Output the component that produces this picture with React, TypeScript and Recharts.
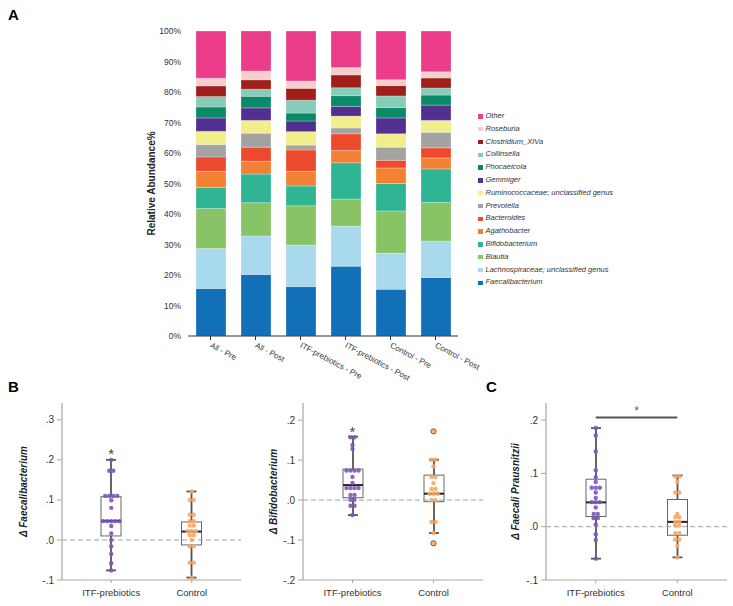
import React from "react";
import {
  BarChart,
  Bar,
  XAxis,
  YAxis,
  ComposedChart,
  Scatter,
  ReferenceLine,
} from "recharts";

const FONT = "'Liberation Sans', Arial, Helvetica, sans-serif";

// ---------- Panel A data ----------
const categories = [
  "All - Pre",
  "All - Post",
  "ITF-prebiotics - Pre",
  "ITF-prebiotics - Post",
  "Control - Pre",
  "Control - Post",
];

const faecalibacterium = [15.6, 20.2, 16.2, 22.9, 15.3, 19.2];
const lachnospiraceae = [13.1, 12.6, 13.6, 13.1, 11.8, 11.9];
const blautia = [13.1, 10.9, 12.9, 8.9, 13.9, 12.7];
const bifidobacterium = [6.9, 9.4, 6.5, 11.9, 9.0, 11.0];
const agathobacter = [5.3, 4.2, 4.8, 4.0, 5.1, 3.6];
const bacteroides = [4.7, 4.6, 7.0, 5.5, 2.5, 3.3];
const prevotella = [4.1, 4.6, 1.6, 1.9, 4.3, 5.1];
const ruminococcaceae = [4.3, 4.2, 4.4, 3.9, 4.4, 3.9];
const gemmiger = [4.4, 4.1, 3.5, 3.2, 5.2, 5.0];
const phocaeicola = [3.6, 3.8, 2.6, 3.5, 3.4, 3.3];
const collinsella = [3.4, 2.3, 4.2, 2.6, 3.8, 2.3];
const clostridium = [3.5, 3.1, 3.9, 4.2, 3.4, 3.3];
const roseburia = [2.5, 2.9, 2.4, 2.4, 1.9, 2.0];
const other = [15.5, 13.1, 16.4, 12.0, 16.0, 13.4];

const taxonNames = [
  "Faecalibacterium",
  "Lachnospiraceae; unclassified genus",
  "Blautia",
  "Bifidobacterium",
  "Agathobacter",
  "Bacteroides",
  "Prevotella",
  "Ruminococcaceae; unclassified genus",
  "Gemmiger",
  "Phocaeicola",
  "Collinsella",
  "Clostridium_XIVa",
  "Roseburia",
  "Other",
];
const taxonSeries = [
  faecalibacterium,
  lachnospiraceae,
  blautia,
  bifidobacterium,
  agathobacter,
  bacteroides,
  prevotella,
  ruminococcaceae,
  gemmiger,
  phocaeicola,
  collinsella,
  clostridium,
  roseburia,
  other,
];
const taxonColors = [
  "#1170b8",
  "#a9d9ec",
  "#88c466",
  "#30b594",
  "#f28133",
  "#ed4a2d",
  "#a3a3a3",
  "#f3ee8c",
  "#51308f",
  "#0a8a68",
  "#87cbb9",
  "#a01f1a",
  "#f6cfcd",
  "#ec3d8b",
];
const percentTicks = [0, 10, 20, 30, 40, 50, 60, 70, 80, 90, 100];

const stackData = categories.map((c, i) => {
  const row: Record<string, any> = { category: c };
  taxonNames.forEach((n, j) => {
    row[n] = taxonSeries[j][i];
  });
  return row;
});

// ---------- Panels B / C data ----------
const groups = ["ITF-prebiotics", "Control"];

const itfFaecali = [0.2, 0.173, 0.173, 0.11, 0.11, 0.11, 0.11, 0.099, 0.08, 0.047, 0.047, 0.047, 0.047, 0.047, 0.035, 0.016, 0.0, -0.016, -0.035, -0.058, -0.076];
const ctrlFaecali = [0.121, 0.1, 0.1, 0.063, 0.063, 0.047, 0.047, 0.036, 0.036, 0.022, 0.022, 0.022, 0.012, 0.012, 0.0, -0.016, -0.016, -0.057, -0.057, -0.094];
const statsFaecali = [
  { low: -0.076, q1: 0.01, median: 0.0475, q3: 0.108, high: 0.2 },
  { low: -0.094, q1: -0.0125, median: 0.021, q3: 0.045, high: 0.121 },
];

const itfBifido = [0.157, 0.157, 0.138, 0.128, 0.074, 0.074, 0.074, 0.074, 0.058, 0.043, 0.03, 0.03, 0.03, 0.03, 0.013, 0.013, 0.001, 0.001, -0.014, -0.014, -0.0375];
const ctrlBifido = [0.172, 0.101, 0.101, 0.084, 0.058, 0.058, 0.0425, 0.028, 0.028, 0.016, 0.016, 0.016, 0.0, 0.0, -0.055, -0.055, -0.0825, -0.108];
const statsBifido = [
  { low: -0.0375, q1: 0.006, median: 0.0375, q3: 0.0775, high: 0.159 },
  { low: -0.0825, q1: -0.004, median: 0.016, q3: 0.0625, high: 0.101 },
];

const itfPraus = [0.185, 0.171, 0.141, 0.106, 0.093, 0.084, 0.073, 0.073, 0.073, 0.064, 0.054, 0.046, 0.046, 0.046, 0.036, 0.024, 0.024, 0.016, 0.016, 0.004, -0.014, -0.025, -0.06];
const ctrlPraus = [0.094, 0.094, 0.084, 0.064, 0.064, 0.024, 0.018, 0.018, 0.009, 0.009, 0.002, 0.002, -0.012, -0.012, -0.024, -0.024, -0.036, -0.0575];
const statsPraus = [
  { low: -0.06, q1: 0.019, median: 0.0456, q3: 0.089, high: 0.185 },
  { low: -0.0575, q1: -0.016, median: 0.009, q3: 0.051, high: 0.096 },
];

const ticksFaecali = [-0.1, 0, 0.1, 0.2, 0.3];
const ticksBifido = [-0.2, -0.1, 0, 0.1, 0.2];
const ticksPraus = [-0.1, 0, 0.1, 0.2];

const groupColors = ["#7d55bd", "#f6a664"];

// ---------- helpers ----------
const dodgeStep = 0.05;
function buildPoints(values: number[], gi: number, low: number, high: number) {
  const counts = new Map<number, number>();
  values.forEach((v) => counts.set(v, (counts.get(v) || 0) + 1));
  const seen = new Map<number, number>();
  return values.map((v) => {
    const n = counts.get(v) as number;
    const k = seen.get(v) || 0;
    seen.set(v, k + 1);
    return {
      x: gi + 1 + (k - (n - 1) / 2) * dodgeStep,
      y: v,
      outlier: v > high + 1e-9 || v < low - 1e-9,
      gi,
    };
  });
}

const fmtTick = (v: number) => {
  if (Math.abs(v) < 1e-9) return ".0";
  return (v < 0 ? "-" : "") + "." + Math.round(Math.abs(v) * 10);
};

const BoxShape = (props: any) => {
  const { x, y, width, height, payload } = props;
  const lo = payload.range[0];
  const hi = payload.range[1];
  const top = Math.min(y, y + height);
  const bottom = Math.max(y, y + height);
  const py = (v: number) => top + ((bottom - top) * (hi - v)) / (hi - lo);
  const cx = x + width / 2;
  const q3y = py(payload.q3);
  const q1y = py(payload.q1);
  const my = py(payload.median);
  const wc = "#555";
  return (
    <g>
      <line x1={cx} x2={cx} y1={top} y2={q3y} stroke={wc} strokeWidth={1.8} />
      <line x1={cx} x2={cx} y1={q1y} y2={bottom} stroke={wc} strokeWidth={1.8} />
      <line x1={cx - 5} x2={cx + 5} y1={top} y2={top} stroke={wc} strokeWidth={1.8} />
      <line x1={cx - 5} x2={cx + 5} y1={bottom} y2={bottom} stroke={wc} strokeWidth={1.8} />
      <rect x={x} y={q3y} width={width} height={q1y - q3y} fill="none" stroke="#666" strokeWidth={1} />
      <line x1={x} x2={x + width} y1={my} y2={my} stroke="#222" strokeWidth={2} />
    </g>
  );
};

const DotShape = (props: any) => {
  const { cx, cy, payload } = props;
  if (payload.outlier) {
    return <circle cx={cx} cy={cy} r={2.6} fill="#f7b47a" stroke="#8a5a30" strokeWidth={1} />;
  }
  return <circle cx={cx} cy={cy} r={2.2} fill={groupColors[payload.gi]} fillOpacity={0.9} />;
};

const StarShape = (size: number, color: string) => (props: any) => {
  const { cx, cy } = props;
  return (
    <text x={cx} y={cy + size * 0.57} textAnchor="middle" fontSize={size} fill={color} fontFamily={FONT}>
      *
    </text>
  );
};

const YLabel = (props: any) => {
  const { viewBox, text, dxFromAxis } = props;
  const cx = viewBox.x + viewBox.width - dxFromAxis;
  const cy = viewBox.y + viewBox.height / 2;
  return (
    <text
      x={cx}
      y={cy}
      transform={`rotate(-90, ${cx}, ${cy})`}
      textAnchor="middle"
      dominantBaseline="central"
      fontSize={10}
      fontWeight="bold"
      fontStyle="italic"
      fill="#222"
      fontFamily={FONT}
    >
      {text}
    </text>
  );
};

type PanelProps = {
  left: number;
  width: number;
  marginLeft: number;
  marginRight: number;
  domain: [number, number];
  ticks: number[];
  stats: any[];
  itf: number[];
  ctrl: number[];
  label: string;
  labelDx: number;
  star?: { x: number; y: number; size: number; color: string };
  sig?: { y: number };
};

function BoxPanel(p: PanelProps) {
  const boxData = groups.map((g, i) => ({
    group: g,
    range: [p.stats[i].low, p.stats[i].high],
    q1: p.stats[i].q1,
    median: p.stats[i].median,
    q3: p.stats[i].q3,
  }));
  const points = [
    ...buildPoints(p.itf, 0, p.stats[0].low, p.stats[0].high),
    ...buildPoints(p.ctrl, 1, p.stats[1].low, p.stats[1].high),
  ];
  const axisColor = "#a8a8a8";
  return (
    <div style={{ position: "absolute", left: p.left, top: 390 }}>
      <ComposedChart
        width={p.width}
        height={216}
        data={boxData}
        margin={{ top: 13, right: p.marginRight, bottom: 0, left: p.marginLeft }}
      >
        <XAxis
          xAxisId="cat"
          dataKey="group"
          type="category"
          padding={{ left: 9, right: 9 }}
          height={26}
          tickSize={3}
          tickMargin={6}
          axisLine={{ stroke: axisColor, strokeWidth: 1.2 }}
          tickLine={{ stroke: axisColor }}
          tick={{ fontSize: 9.5, fill: "#333", fontFamily: FONT }}
        />
        <XAxis
          xAxisId="num"
          dataKey="x"
          type="number"
          domain={[0.5, 2.5]}
          padding={{ left: 9, right: 9 }}
          allowDataOverflow
          hide
        />
        <YAxis
          type="number"
          domain={p.domain}
          ticks={p.ticks}
          allowDataOverflow
          width={40}
          tickSize={5}
          tickMargin={3}
          tickFormatter={fmtTick}
          axisLine={{ stroke: axisColor, strokeWidth: 1.2 }}
          tickLine={{ stroke: axisColor }}
          tick={{ fontSize: 10, fill: "#333", fontFamily: FONT }}
          label={<YLabel text={p.label} dxFromAxis={p.labelDx} />}
        />
        <ReferenceLine xAxisId="cat" y={0} stroke="#a0a0a0" strokeDasharray="5 3" strokeWidth={1} />
        <Bar xAxisId="cat" dataKey="range" barSize={20} shape={BoxShape} isAnimationActive={false} />
        <Scatter xAxisId="num" data={points} dataKey="y" shape={DotShape} isAnimationActive={false} />
        {p.star && (
          <Scatter
            xAxisId="num"
            data={[{ x: p.star.x, y: p.star.y }]}
            dataKey="y"
            shape={StarShape(p.star.size, p.star.color)}
            isAnimationActive={false}
          />
        )}
        {p.sig && (
          <ReferenceLine
            xAxisId="num"
            segment={[
              { x: 1, y: p.sig.y },
              { x: 2, y: p.sig.y },
            ]}
            stroke="#555"
            strokeWidth={2}
          />
        )}
      </ComposedChart>
    </div>
  );
}

const RotTick = (props: any) => {
  const { x, y, payload } = props;
  const tx = x - 1;
  const ty = y + 5;
  return (
    <text x={tx} y={ty} transform={`rotate(28, ${tx}, ${ty})`} fontSize={8} fill="#333" fontFamily={FONT}>
      {payload.value}
    </text>
  );
};

const letterStyle = (left: number, top: number): React.CSSProperties => ({
  position: "absolute",
  left,
  top,
  fontFamily: FONT,
  fontWeight: "bold",
  fontSize: 15,
  lineHeight: "15px",
  color: "#000",
});

export default function App() {
  const legendItems = taxonNames.map((n, i) => ({ name: n, color: taxonColors[i] })).reverse();
  return (
    <div
      style={{
        position: "absolute",
        left: 0,
        top: 0,
        width: 733,
        height: 606,
        background: "#fff",
        fontFamily: FONT,
        overflow: "hidden",
      }}
    >
      <div style={letterStyle(8, 7)}>A</div>
      <div style={letterStyle(8, 379)}>B</div>
      <div style={letterStyle(486, 379)}>C</div>

      <div style={{ position: "absolute", left: 0, top: 0 }}>
        <BarChart
          width={733}
          height={385}
          data={stackData}
          margin={{ top: 31, right: 275, bottom: 0, left: 138 }}
        >
          <XAxis
            dataKey="category"
            type="category"
            height={49}
            tickSize={4}
            interval={0}
            axisLine={{ stroke: "#333", strokeWidth: 1.2 }}
            tickLine={{ stroke: "#333" }}
            tick={RotTick}
          />
          <YAxis
            type="number"
            domain={[0, 100]}
            ticks={percentTicks}
            width={50}
            tickSize={5}
            tickMargin={2}
            axisLine={false}
            tickLine={false}
            tickFormatter={(v: number) => v + "%"}
            tick={{ fontSize: 8.5, fill: "#333", fontFamily: FONT }}
            label={{
              value: "Relative Abundance%",
              angle: -90,
              position: "insideLeft",
              dx: 8,
              dy: 52,
              style: { fontSize: 10, fontWeight: "bold", fill: "#222", fontFamily: FONT },
            }}
          />
          {taxonNames.map((n, i) => (
            <Bar
              key={n}
              dataKey={n}
              stackId="a"
              fill={taxonColors[i]}
              stroke="rgba(255,255,255,0.5)"
              strokeWidth={0.5}
              barSize={30}
              isAnimationActive={false}
            />
          ))}
        </BarChart>
      </div>

      <div style={{ position: "absolute", left: 476, top: 110 }}>
        {legendItems.map((it) => (
          <div
            key={it.name}
            style={{
              height: 12.8,
              lineHeight: "12.8px",
              fontSize: 7.5,
              fontStyle: "italic",
              color: "#333",
              whiteSpace: "nowrap",
              display: "flex",
              alignItems: "center",
            }}
          >
            <span
              style={{
                display: "inline-block",
                width: 4.5,
                height: 4.5,
                background: it.color,
                marginLeft: 2,
                marginRight: 3,
              }}
            />
            <span>{it.name}</span>
          </div>
        ))}
      </div>

      <BoxPanel
        left={0}
        width={250}
        marginLeft={22}
        marginRight={9}
        domain={[-0.1, 0.342]}
        ticks={ticksFaecali}
        stats={statsFaecali}
        itf={itfFaecali}
        ctrl={ctrlFaecali}
        label="Δ Faecalibacterium"
        labelDx={38.5}
        star={{ x: 1, y: 0.224, size: 15, color: "#444" }}
      />
      <BoxPanel
        left={250}
        width={240}
        marginLeft={13}
        marginRight={7}
        domain={[-0.2, 0.243]}
        ticks={ticksBifido}
        stats={statsBifido}
        itf={itfBifido}
        ctrl={ctrlBifido}
        label="Δ Bifidobacterium"
        labelDx={29.5}
        star={{ x: 1, y: 0.18, size: 15, color: "#444" }}
      />
      <BoxPanel
        left={490}
        width={243}
        marginLeft={16}
        marginRight={6}
        domain={[-0.1, 0.232]}
        ticks={ticksPraus}
        stats={statsPraus}
        itf={itfPraus}
        ctrl={ctrlPraus}
        label="Δ Faecali Prausnitzii"
        labelDx={31}
        star={{ x: 1.5, y: 0.222, size: 12, color: "#666" }}
        sig={{ y: 0.205 }}
      />
    </div>
  );
}
